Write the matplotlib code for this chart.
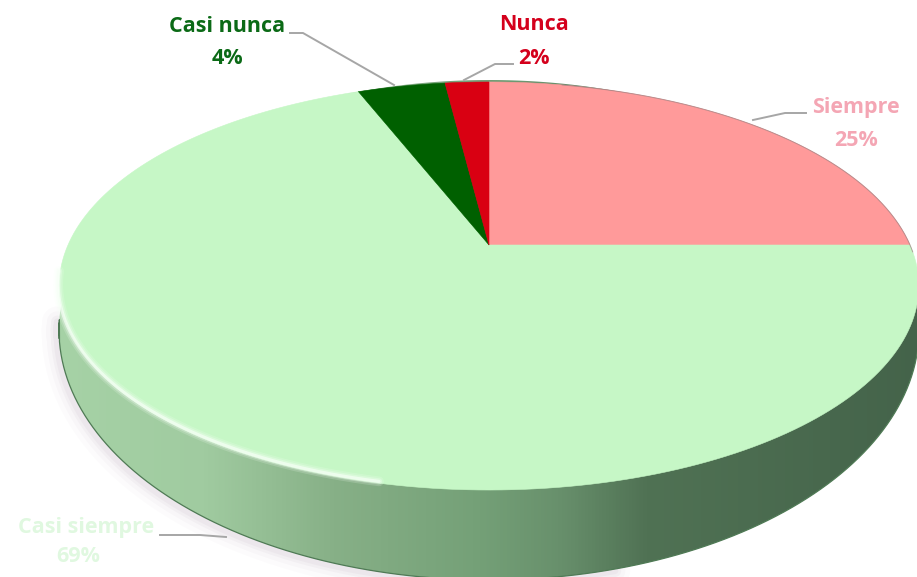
import numpy as np
import matplotlib
matplotlib.use("Agg")
import matplotlib.pyplot as plt
from matplotlib.patches import Polygon
from matplotlib.colors import LinearSegmentedColormap

# Survey shares, clockwise from twelve o'clock
categories = ["Siempre", "Casi siempre", "Casi nunca", "Nunca"]
shares = [25, 69, 4, 2]
slice_colors = ["#ff9a9a", "#c6f7c6", "#006000", "#d90012"]
label_colors = ["#f4a6b4", "#e0f8e0", "#0b6a16", "#d4001c"]

W, H = 917, 577
APEX_X, APEX_Y = 489, 245
SPREAD = 421
TILT_NEAR, TILT_A = 0.201, 262.5


def project(u, v):
    """Map a point of the unit disc to pixel positions with a simple perspective."""
    d = 1 + TILT_NEAR * v
    x = APEX_X + SPREAD * u / d
    y = H - (TILT_A * v + (H - APEX_Y)) / d
    return x, y


def rim(start, stop, n=200):
    t = np.radians(np.linspace(start, stop, n))
    return project(np.sin(t), np.cos(t))


fig = plt.figure(figsize=(W / 100, H / 100), dpi=100)
ax = fig.add_axes([0, 0, 1, 1])
ax.set_xlim(0, W)
ax.set_ylim(H, 0)
ax.axis("off")

# Base outline of the disc
t = np.radians(np.linspace(0, 360, 500))
base_x = APEX_X + 430 * np.sin(t)
base_y = 330 + 250 * np.cos(t)
front = np.cos(t) > -0.05
order = np.argsort(base_x[front])
front_x, front_y = base_x[front][order], base_y[front][order]

# Soft shadow hugging the lower left of the base
for width, alpha in [(22, 0.025), (15, 0.035), (9, 0.05), (5, 0.06)]:
    keep = front_x < 620
    ax.plot(front_x[keep] - 2, front_y[keep] + 2, color="#8c7390", lw=width, alpha=alpha,
            zorder=1, solid_capstyle="round")

# Side wall, shaded from left to right
wall = Polygon(np.column_stack([base_x, base_y]), closed=True, fc="none", ec="none")
ax.add_patch(wall)
wall_cmap = LinearSegmentedColormap.from_list(
    "wall",
    [(0.0, "#a6d2a6"), (0.17, "#a0cba0"), (0.32, "#87b087"), (0.49, "#74a077"),
     (0.58, "#68906c"), (0.68, "#507254"), (1.0, "#44634a")],
)
gradient = np.linspace(0, 1, 512).reshape(1, -1)
image = ax.imshow(gradient, extent=[55, 925, H, 0], cmap=wall_cmap, aspect="auto", zorder=2)
image.set_clip_path(wall)
ax.set_xlim(0, W)
ax.set_ylim(H, 0)

# Top face, one wedge per share
angle = 0.0
for share, color in zip(shares, slice_colors):
    stop = angle + share * 3.6
    rx, ry = rim(angle, stop)
    pts = np.column_stack([np.r_[APEX_X, rx], np.r_[APEX_Y, ry]])
    ax.add_patch(Polygon(pts, closed=True, fc=color, ec=color, lw=0.4, zorder=3))
    angle = stop

# Pale highlight along the front left of the rim
for width, alpha in [(7, 0.18), (4.5, 0.3), (2.2, 0.7)]:
    hx, hy = rim(192, 262)
    ax.plot(hx - 1, hy - 2, color="#f6fff6", lw=width, alpha=alpha, zorder=4, solid_capstyle="round")

# Thin dark edges on the base and on the upper right of the rim
ax.plot(front_x, front_y, color="#4f7a55", lw=0.9, zorder=4)
ex, ey = rim(12, 92)
ax.plot(ex, ey, color="#9a8080", lw=0.7, alpha=0.7, zorder=4)

# Slice labels and their leader lines
font = ["Open Sans", "DejaVu Sans"]
labels = [
    (856, 107, 856, 140, 0),
    (86, 527, 78, 556, 1),
    (227, 26, 227, 58, 2),
    (534, 24, 534, 58, 3),
]
for xa, ya, xb, yb, i in labels:
    ax.text(xa, ya, categories[i], color=label_colors[i], fontsize=15.5, fontweight="bold",
            family=font, ha="center", va="center", zorder=5)
    ax.text(xb, yb, f"{shares[i]}%", color=label_colors[i], fontsize=15.5, fontweight="bold",
            family=font, ha="center", va="center", zorder=5)

leaders = [
    ([753, 785, 806], [120, 113, 113]),
    ([160, 200, 226], [535, 535, 537]),
    ([290, 303, 394], [33, 33, 85]),
    ([464, 495, 513], [80, 64, 64]),
]
for lx, ly in leaders:
    ax.plot(lx, ly, color="#a6a6a6", lw=1.4, zorder=5)

fig.savefig("out.png", dpi=100)
